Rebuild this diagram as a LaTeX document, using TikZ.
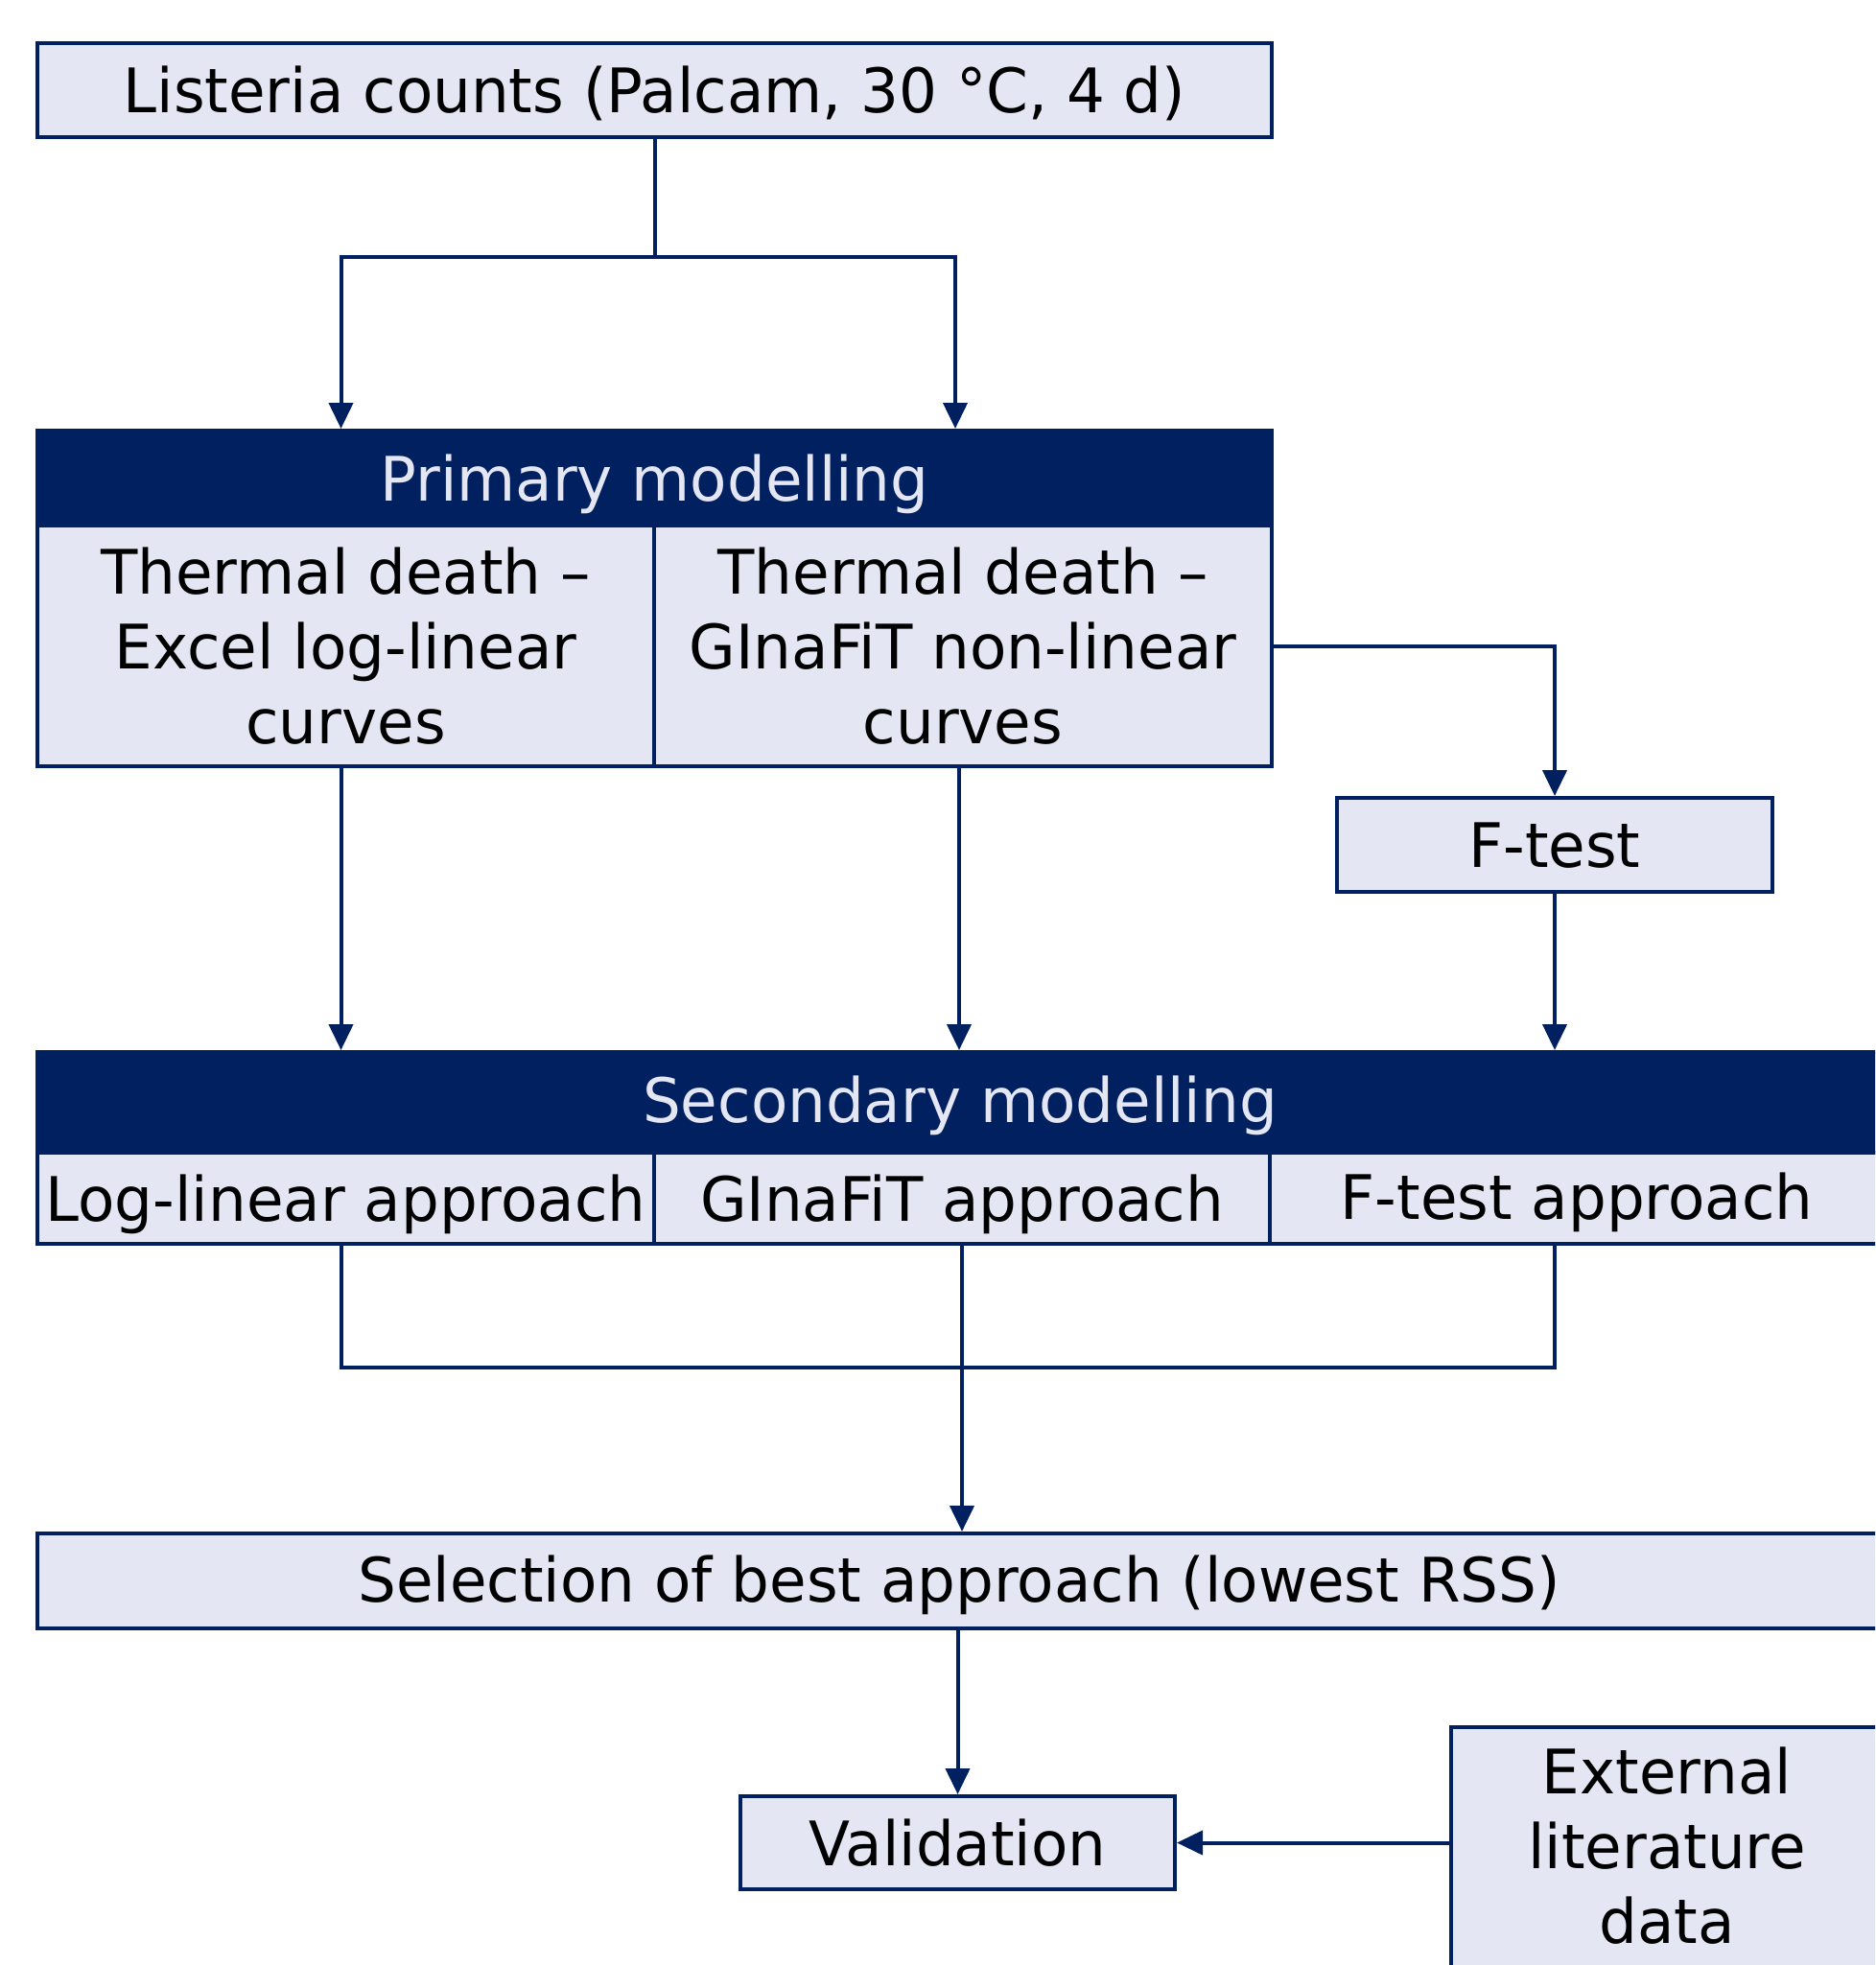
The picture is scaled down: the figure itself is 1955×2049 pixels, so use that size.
\documentclass[tikz,border=0pt]{standalone}
\usepackage{fontspec}
\setmainfont{DejaVu Sans}[FakeStretch=0.98]
\usetikzlibrary{arrows.meta}
\definecolor{navy}{HTML}{002060}
\definecolor{pale}{HTML}{E4E6F3}
\tikzset{
  label font/.style={font=\fontsize{64}{78}\selectfont},
  one line/.style={text height=47pt, text depth=0pt},
  box/.style={draw=navy, line width=4pt, fill=pale, anchor=north west,
    inner sep=0pt, align=center, label font, text=black},
  head/.style={box, fill=navy, text=pale},
  link/.style={draw=navy, line width=4pt},
  arr/.style={link, -{Triangle[length=27pt, width=25pt]}},
}
\begin{document}
\begin{tikzpicture}[x=1pt, y=-1pt]
\fill[white] (0,0) rectangle (1955,2049);
\useasboundingbox (0,0) rectangle (1955,2049);
\clip (0,0) rectangle (1955,2049);

% input data
\node[box, one line, minimum width=1287pt, minimum height=98pt] (top) at (37,43)
  {Listeria counts (Palcam, 30 °C, 4 d)};

% primary modelling block
\node[head, one line, minimum width=1287pt, minimum height=99pt] (pmh) at (37,447) {Primary modelling};
\node[box, minimum width=643pt, minimum height=251pt] (pmA) at (37,546)
  {Thermal death –\\Excel log-linear\\curves};
\node[box, minimum width=644pt, minimum height=251pt] (pmB) at (680,546)
  {Thermal death –\\GInaFiT non-linear\\curves};

% F-test
\node[box, one line, minimum width=454pt, minimum height=98pt] (ftest) at (1392,830) {F-test};

% secondary modelling block
\node[head, minimum width=1950pt, minimum height=105pt] (smh) at (37,1095) {};
\node[text=pale, label font, one line] (smt) at (1001,1147) {Secondary modelling};
\node[box, one line, minimum width=643pt, minimum height=95pt] (smA) at (37,1200) {Log-linear approach};
\node[box, one line, minimum width=642pt, minimum height=95pt] (smB) at (680,1200) {GInaFiT approach};
\node[box, minimum width=665pt, minimum height=95pt] (smC) at (1322,1200) {};
\node[label font, one line] (smCt) at (1644,1248) {F-test approach};

% selection and validation
\node[box, minimum width=1950pt, minimum height=99pt] (sel) at (37,1597) {};
\node[label font, one line] (selt) at (1000,1647) {Selection of best approach (lowest RSS)};
\node[box, one line, minimum width=453pt, minimum height=97pt] (val) at (770,1871) {Validation};
\node[box, minimum width=470pt, minimum height=280pt] (ext) at (1511,1799) {};
\node[label font, align=center] (extt) at (1738,1925)
  {External\\literature\\data};

% connectors
\coordinate (split) at (top.south |- 0,268);
\draw[link] (top.south) -- (split);
\draw[arr] (split) -| ([xshift=-5pt]pmA.center |- pmh.north);
\draw[arr] (split) -| ([xshift=-8pt]pmB.center |- pmh.north);
\draw[arr] (pmB.east) -| (ftest.north);
\draw[arr] ([xshift=-5pt]pmA.south) -- ([xshift=-5pt]pmA.south |- smh.north);
\draw[arr] ([xshift=-4pt]pmB.south) -- ([xshift=-4pt]pmB.south |- smh.north);
\draw[arr] (ftest.south) -- (ftest.south |- smh.north);
\coordinate (mergeL) at ([xshift=-5pt]smA.south |- 0,1426);
\coordinate (mergeR) at (ftest.south |- 0,1426);
\draw[link] ([xshift=-5pt]smA.south) -- (mergeL) -- (mergeR) -- (ftest.south |- smC.south);
\draw[arr] (smB.south) -- (smB.south |- sel.north);
\draw[arr] (sel.south -| val.north) -- (val.north);
\draw[arr] (ext.west |- val.east) -- (val.east);
\end{tikzpicture}
\end{document}
